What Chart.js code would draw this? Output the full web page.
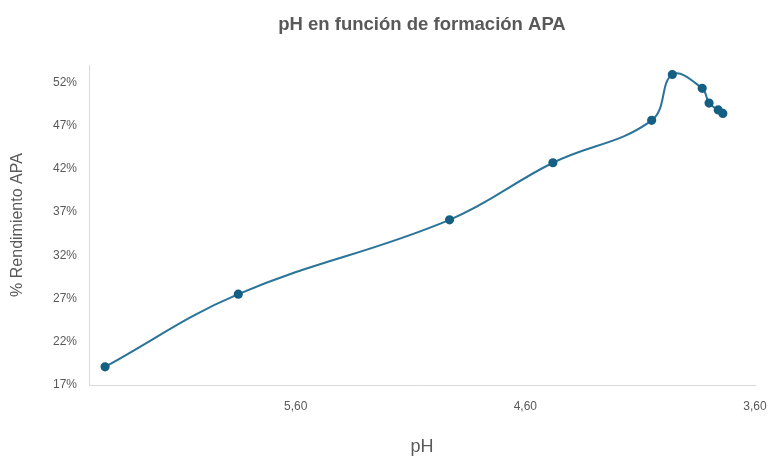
<!DOCTYPE html>
<html>
<head>
<meta charset="utf-8">
<script src="https://cdn.jsdelivr.net/npm/chart.js@4.4.1/dist/chart.umd.min.js"></script>
<style>
  html, body { margin: 0; padding: 0; background: #ffffff; }
  #wrap { width: 768px; height: 459px; }
</style>
</head>
<body>
<div id="wrap"><canvas id="c" width="768" height="459"></canvas></div>
<script>
// pH readings and APA yield (%) for each run
const phValues = [6.43, 5.85, 4.93, 4.48, 4.05, 3.96, 3.83, 3.80, 3.76, 3.74];
const yieldValues = [19.1, 27.5, 36.1, 42.7, 47.6, 52.9, 51.3, 49.6, 48.8, 48.4];

// Axis tick labels
const xTicks = [5.6, 4.6, 3.6];
const yTicks = [17, 22, 27, 32, 37, 42, 47, 52];

const chartTitle = 'pH en función de formación APA';
const xTitle = 'pH';
const yTitle = '% Rendimiento APA';

const points = phValues.map((p, i) => ({ x: p, y: yieldValues[i] }));

const textGrey = '#595959';
const axisGrey = '#d9d9d9';

// Title centred over the plotting area
const plotTitle = {
  id: 'plotTitle',
  afterDraw(chart) {
    const { ctx, chartArea } = chart;
    ctx.save();
    ctx.font = 'bold 18.5px "Liberation Sans", Arial, sans-serif';
    ctx.fillStyle = textGrey;
    ctx.textAlign = 'center';
    ctx.textBaseline = 'middle';
    ctx.fillText(chartTitle, (chartArea.left + chartArea.right) / 2, 25);
    ctx.restore();
  }
};

new Chart(document.getElementById('c'), {
  type: 'scatter',
  data: {
    datasets: [{
      data: points,
      showLine: true,
      tension: 0.4,
      borderColor: '#2a7399',
      borderWidth: 2,
      pointBackgroundColor: '#156082',
      pointBorderColor: '#156082',
      pointRadius: 3.6,
      pointHoverRadius: 3.6
    }]
  },
  options: {
    responsive: false,
    animation: false,
    layout: { padding: { top: 65, right: 13, bottom: 0, left: 0 } },
    plugins: {
      legend: { display: false },
      title: { display: false },
      tooltip: { enabled: false }
    },
    scales: {
      x: {
        type: 'linear',
        reverse: true,
        min: 3.6,
        max: 6.5,
        afterBuildTicks(scale) { scale.ticks = xTicks.map(v => ({ value: v })); },
        afterFit(scale) {
          scale.height = 74;
          scale.paddingLeft = 0;
          scale.paddingRight = 0;
        },
        grid: { display: false, drawTicks: false },
        border: { display: true, color: axisGrey, width: 1 },
        ticks: {
          padding: 14,
          color: textGrey,
          font: { family: '"Liberation Sans", Arial, sans-serif', size: 12 },
          maxRotation: 0,
          callback: v => v.toFixed(2).replace('.', ',')
        },
        title: {
          display: true,
          text: xTitle,
          color: textGrey,
          font: { family: '"Liberation Sans", Arial, sans-serif', size: 18 },
          padding: { top: 0, bottom: 1 }
        }
      },
      y: {
        min: 17,
        max: 54,
        afterBuildTicks(scale) { scale.ticks = yTicks.map(v => ({ value: v })); },
        afterFit(scale) {
          scale.width = 89;
          scale.paddingTop = 0;
          scale.paddingBottom = 0;
        },
        grid: { display: false, drawTicks: false },
        border: { display: true, color: axisGrey, width: 1 },
        ticks: {
          padding: 12,
          color: textGrey,
          font: { family: '"Liberation Sans", Arial, sans-serif', size: 12 },
          callback: v => v + '%'
        },
        title: {
          display: true,
          text: yTitle,
          color: textGrey,
          font: { family: '"Liberation Sans", Arial, sans-serif', size: 16 },
          padding: { top: 8, bottom: 0 }
        }
      }
    }
  },
  plugins: [plotTitle]
});
</script>
</body>
</html>
